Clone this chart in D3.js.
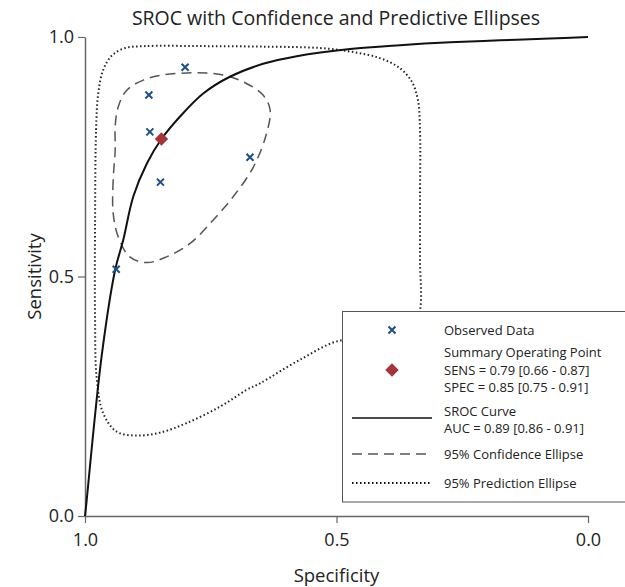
<!DOCTYPE html>
<html>
<head>
<meta charset="utf-8">
<script src="https://cdn.jsdelivr.net/npm/d3@7"></script>
<style>
  body { margin: 0; background: #fff; }
  svg { font-family: "Open Sans", sans-serif; }
</style>
</head>
<body>
<svg width="625" height="587"></svg>
<script>
// observed studies (specificity, sensitivity)
const obsSpec = [0.801, 0.873, 0.871, 0.850, 0.672, 0.938];
const obsSens = [0.937, 0.879, 0.802, 0.697, 0.749, 0.515];

// summary operating point
const sumSpec = 0.848;
const sumSens = 0.787;

// SROC curve
const srocSpec = [1.000, 0.998, 0.967, 0.940, 0.924, 0.904, 0.877, 0.848, 0.811, 0.765, 0.712, 0.646, 0.579, 0.473, 0.374, 0.274, 0.175, 0.076, 0.000];
const srocSens = [0.000, 0.019, 0.333, 0.514, 0.576, 0.667, 0.736, 0.787, 0.834, 0.882, 0.917, 0.944, 0.960, 0.975, 0.983, 0.989, 0.993, 0.997, 1.000];

// 95% confidence region
const confSpec = [0.940, 0.944, 0.944, 0.934, 0.911, 0.877, 0.838, 0.791, 0.745, 0.705, 0.665, 0.639, 0.632, 0.646, 0.679, 0.718, 0.758, 0.798, 0.844, 0.884, 0.917, 0.934, 0.940];
const confSens = [0.764, 0.701, 0.632, 0.583, 0.541, 0.529, 0.541, 0.569, 0.618, 0.667, 0.729, 0.799, 0.848, 0.879, 0.903, 0.919, 0.925, 0.925, 0.921, 0.910, 0.889, 0.854, 0.813];

// 95% prediction region
const predSpec = [0.980, 0.978, 0.974, 0.964, 0.946, 0.920, 0.881, 0.771, 0.652, 0.533, 0.469, 0.414, 0.374, 0.350, 0.338, 0.334, 0.334, 0.334, 0.334, 0.350, 0.404, 0.489, 0.573, 0.652, 0.679, 0.732, 0.798, 0.851, 0.897, 0.937, 0.964, 0.977, 0.980];
const predSens = [0.618, 0.806, 0.879, 0.931, 0.962, 0.977, 0.981, 0.981, 0.980, 0.977, 0.969, 0.956, 0.935, 0.906, 0.868, 0.806, 0.660, 0.534, 0.430, 0.388, 0.357, 0.367, 0.326, 0.277, 0.263, 0.228, 0.194, 0.174, 0.168, 0.176, 0.215, 0.291, 0.409];

const tickVals = [0, 0.5, 1.0];

const legendRows = [
    { type: 'cross', lines: ['Observed Data'] },
    { type: 'diamond', lines: ['Summary Operating Point', 'SENS = 0.79 [0.66 - 0.87]', 'SPEC = 0.85 [0.75 - 0.91]'] },
    { type: 'solid', lines: ['SROC Curve', 'AUC = 0.89 [0.86 - 0.91]'] },
    { type: 'dashed', lines: ['95% Confidence Ellipse'] },
    { type: 'dotted', lines: ['95% Prediction Ellipse'] }
];

const svg = d3.select('svg');

const x = d3.scaleLinear().domain([1, 0]).range([85, 588]);
const y = d3.scaleLinear().domain([0, 1]).range([516, 37]);

const blue = '#1d4f84';
const red = '#a3343a';

// ---- Title
svg.append('text')
    .attr('x', 336).attr('y', 25)
    .attr('text-anchor', 'middle')
    .style('font-size', '19.5px')
    .style('fill', '#222')
    .text('SROC with Confidence and Predictive Ellipses');

// ---- Axes
const xAxis = svg.append('g')
    .attr('transform', `translate(0, ${y(0)})`)
    .call(d3.axisBottom(x).tickValues(tickVals).tickFormat(d3.format('.1f')).tickSize(7).tickSizeOuter(0).tickPadding(10));

const yAxis = svg.append('g')
    .attr('transform', `translate(${x(1)}, 0)`)
    .call(d3.axisLeft(y).tickValues(tickVals).tickFormat(d3.format('.1f')).tickSize(7).tickSizeOuter(0).tickPadding(4));

[xAxis, yAxis].forEach(a => {
    a.select('.domain').attr('stroke', '#666').attr('stroke-width', 1.5);
    a.selectAll('.tick line').attr('stroke', '#666').attr('stroke-width', 1.2);
    a.selectAll('.tick text').style('font-size', '18px').style('fill', '#222').style('font-family', '"Open Sans", sans-serif');
});

svg.append('text')
    .attr('transform', `translate(41, ${y(0.5)}) rotate(-90)`)
    .attr('text-anchor', 'middle')
    .style('font-size', '18.5px')
    .style('fill', '#222')
    .text('Sensitivity');

svg.append('text')
    .attr('x', x(0.5)).attr('y', 582)
    .attr('text-anchor', 'middle')
    .style('font-size', '18.5px')
    .style('fill', '#222')
    .text('Specificity');

// ---- Regions and curve
const closed = d3.line().x(d => x(d[0])).y(d => y(d[1])).curve(d3.curveCatmullRomClosed.alpha(0.5));
const open = d3.line().x(d => x(d[0])).y(d => y(d[1])).curve(d3.curveCatmullRom.alpha(0.5));

svg.append('path')
    .attr('d', closed(d3.zip(predSpec, predSens)))
    .attr('fill', 'none')
    .attr('stroke', '#222')
    .attr('stroke-width', 2)
    .attr('stroke-dasharray', '1.5,2.5');

svg.append('path')
    .attr('d', closed(d3.zip(confSpec, confSens)))
    .attr('fill', 'none')
    .attr('stroke', '#555')
    .attr('stroke-width', 1.5)
    .attr('stroke-dasharray', '10,6');

svg.append('path')
    .attr('d', open(d3.zip(srocSpec, srocSens)))
    .attr('fill', 'none')
    .attr('stroke', '#111')
    .attr('stroke-width', 2);

// ---- Points
function cross(g, cx, cy) {
    g.append('path')
        .attr('d', `M${cx - 3.5},${cy - 3.5}L${cx + 3.5},${cy + 3.5}M${cx - 3.5},${cy + 3.5}L${cx + 3.5},${cy - 3.5}`)
        .attr('stroke', blue)
        .attr('stroke-width', 2);
}

d3.zip(obsSpec, obsSens).forEach(d => cross(svg, x(d[0]), y(d[1])));

const diamond = d3.symbol().type(d3.symbolDiamond2).size(115);
svg.append('path')
    .attr('d', diamond())
    .attr('transform', `translate(${x(sumSpec)}, ${y(sumSens)})`)
    .attr('fill', red);

// ---- Legend
const lg = svg.append('g');
lg.append('rect')
    .attr('x', 342.5).attr('y', 311.5)
    .attr('width', 300).attr('height', 190.5)
    .attr('fill', '#fff')
    .attr('stroke', '#555')
    .attr('stroke-width', 1);

const rowY = [330, 370, 420, 454, 483];
const lineGap = 17.5;
const symX = 392;
legendRows.forEach((r, i) => {
    const cy = rowY[i];
    const n = r.lines.length;
    r.lines.forEach((t, j) => {
        lg.append('text')
            .attr('x', 444)
            .attr('y', cy + (j - (n - 1) / 2) * lineGap)
            .attr('dy', '0.35em')
            .style('font-size', '13px')
            .style('fill', '#222')
            .text(t);
    });
    if (r.type === 'cross') cross(lg, symX, cy);
    if (r.type === 'diamond') {
        lg.append('path').attr('d', diamond()).attr('transform', `translate(${symX}, ${cy})`).attr('fill', red);
    }
    if (r.type === 'solid' || r.type === 'dashed' || r.type === 'dotted') {
        const ly = r.type === 'solid' ? cy - 2 : cy;
        lg.append('line')
            .attr('x1', 352).attr('x2', 432)
            .attr('y1', ly).attr('y2', ly)
            .attr('stroke', r.type === 'dashed' ? '#555' : '#111')
            .attr('stroke-width', r.type === 'dotted' ? 2 : 1.5)
            .attr('stroke-dasharray', r.type === 'dashed' ? '10,6' : r.type === 'dotted' ? '1.5,2.5' : null);
    }
});
</script>
</body>
</html>
